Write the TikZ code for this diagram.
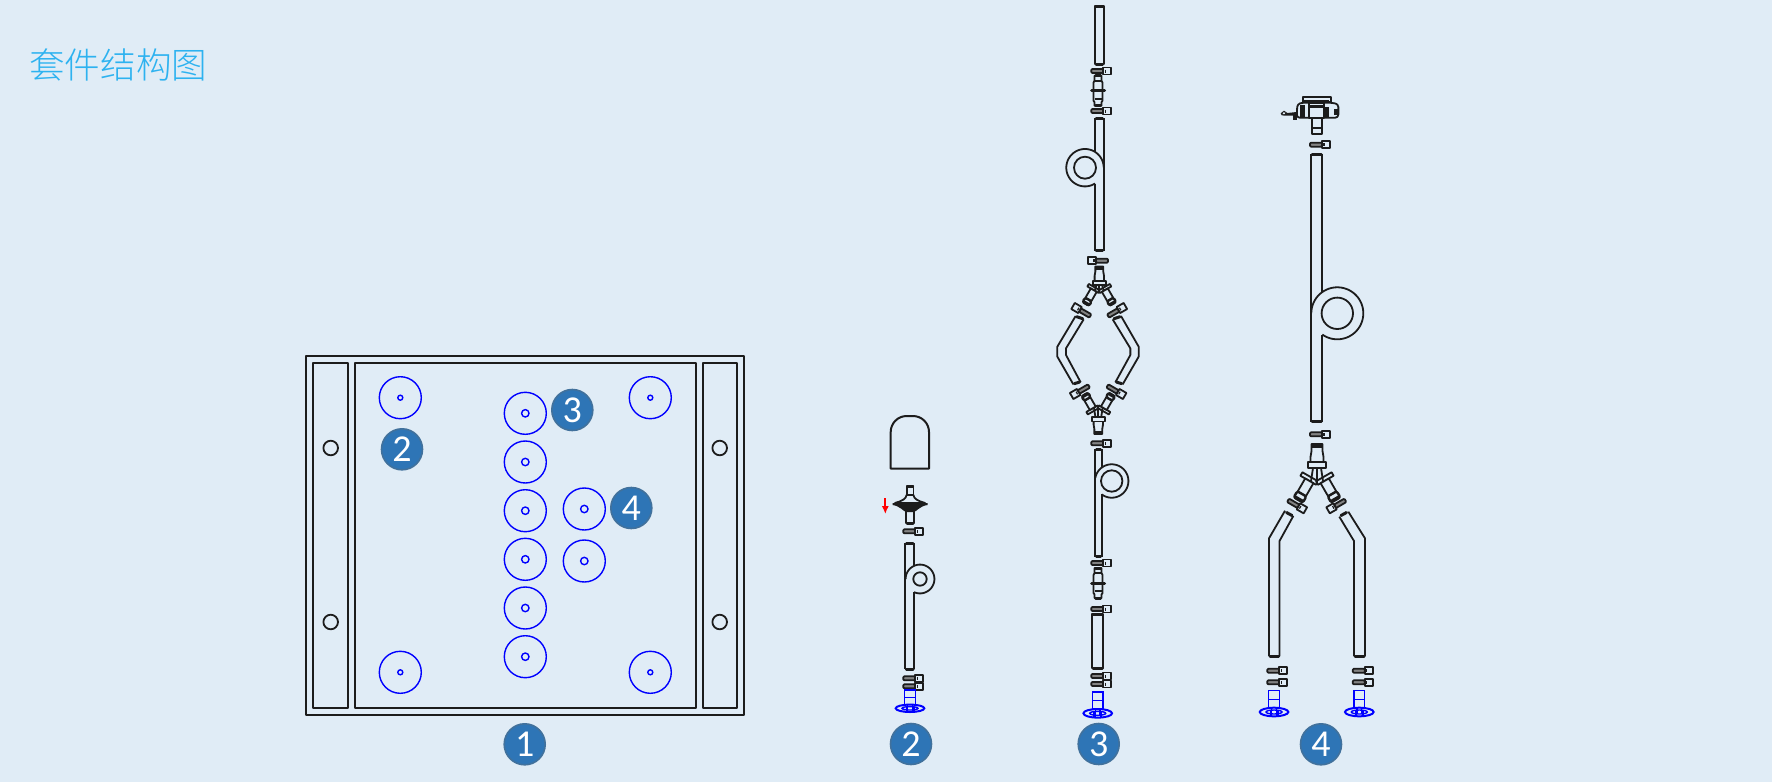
\documentclass[tikz,border=0pt]{standalone}
\usepackage{fontspec}
\usetikzlibrary{arrows.meta}
\setmainfont{Carlito}
\newfontfamily\cjk[UprightFont={* Light}]{Noto Sans CJK SC}
\definecolor{bgc}{HTML}{E0ECF6}
\definecolor{ink}{HTML}{1C1C1C}
\definecolor{titlec}{HTML}{2DB2F0}
\definecolor{badgec}{HTML}{2E75B6}
\definecolor{badgeb}{HTML}{41719C}
\tikzset{
  tubeline/.style={draw=ink,line width=0.9pt,line join=round},
  capline/.style={draw=ink,line width=1.5pt,line cap=round},
  thinblue/.style={draw=blue,line width=0.7pt},
  badge/.style={circle,fill=badgec,draw=badgeb,line width=0.8pt,minimum size=20.5pt,inner sep=0pt,text=white,font=\fontsize{19}{20}\selectfont},
  lockpiece/.pic={
    \draw[tubeline,fill=ink!55,rounded corners=0.5pt] (-10,-2) rectangle (2,2);
    \draw[tubeline,fill=bgc] (2,-3.5) rectangle (10,3.5);
    \draw[ink,line width=0.6pt] (4,-1.5) -- (4,1.5);
  },
  unionpiece/.pic={
    \draw[tubeline,fill=bgc] (-3.5,-15) -- (-3.5,-10) -- (-4.5,-8) -- (-4.5,0) -- (4.5,0) -- (4.5,-8) -- (3.5,-10) -- (3.5,-15) -- cycle;
    \draw[tubeline,fill=bgc] (-4.5,0) -- (-4.5,10) -- (-3.5,11.5) -- (-3.5,15) -- (3.5,15) -- (3.5,11.5) -- (4.5,10) -- (4.5,0) -- cycle;
    \draw[capline] (-2.5,-15) -- (2.5,-15);
    \draw[capline] (-2.5,15) -- (2.5,15);
    \draw[tubeline] (-3.5,-10) -- (3.5,-10);
    \draw[tubeline] (-3.5,8) -- (3.5,8);
    \draw[capline] (-6.5,0) -- (6.5,0);
  },
  basepiece/.pic={
    \draw[thinblue] (-5.3,-21.3) rectangle (5.3,-12.7);
    \draw[thinblue] (-5.3,-12.7) -- (-5.3,-3.5);
    \draw[thinblue] (5.3,-12.7) -- (5.3,-3.5);
    \draw[thinblue,line width=1pt] (0,0) ellipse [x radius=14.3,y radius=4.3];
    \draw[thinblue] (0,0) ellipse [x radius=8,y radius=2];
    \fill[blue] (-4.5,-1) rectangle (-2.2,4.3);
    \fill[blue] (2.2,-1) rectangle (4.5,4.3);
    \draw[thinblue] (-2.3,-5) -- (-2.3,2);
    \draw[thinblue] (2.3,-5) -- (2.3,2);
  }
}
\newcommand{\plaintube}[4]{%
  \draw[tubeline] (#1,#3) rectangle (#2,#4);
  \draw[capline] ({#1+1},#3) -- ({#2-1},#3);
  \draw[capline] ({#1+1},#4) -- ({#2-1},#4);
}
% far x, near x, top, bottom, cx, cy, outer r, inner r, side
\newcommand{\looptube}[9]{%
  \pgfmathsetmacro\lta{360-acos(max(-1,min(1,#9*(#1-#5)/#7)))}%
  \pgfmathsetmacro\ltb{360+acos(max(-1,min(1,#9*(#2-#5)/#7)))}%
  \pgfmathsetmacro\lth{sqrt(max(0,#7*#7-(#2-#5)*(#2-#5)))}%
  \draw[tubeline] (#1,#3) -- (#1,#4);
  \draw[tubeline] (#2,#3) -- (#2,{#6-\lth});
  \draw[tubeline] (#2,{#6+\lth}) -- (#2,#4);
  \draw[tubeline] plot[domain=\lta:\ltb,samples=90] ({#5+#9*#7*cos(\x)},{#6+#7*sin(\x)});
  \draw[tubeline] (#5,#6) circle[radius=#8];
  \draw[capline] ({min(#1,#2)+1},#3) -- ({max(#1,#2)-1},#3);
  \draw[capline] ({min(#1,#2)+1},#4) -- ({max(#1,#2)-1},#4);
}
\newcommand{\ybranch}{%
  \draw[tubeline,fill=bgc] (-18,-2) rectangle (0,2);
  \draw[tubeline,fill=bgc] (-12.5,2) rectangle (-3,17);
  \draw[tubeline,line width=1.2pt,fill=bgc,rounded corners=1pt] (-13,17) rectangle (-2.5,24);
  \draw[ink,line width=1.6pt] (-12.5,23) -- (-3,23);
}
% x, y, xscale, yscale, stem end, flange position (both as negative offsets from the hub)
\newcommand{\yfitting}[6]{%
  \begin{scope}[shift={(#1,#2)},xscale=#3,yscale=#4]
    \begin{scope}[rotate=-30]\ybranch\end{scope}
    \begin{scope}[xscale=-1,rotate=-30]\ybranch\end{scope}
    \draw[tubeline,fill=bgc] (-5.5,#5) -- (-5.5,{#5+7}) -- (-6.5,{#5+13}) -- (-6.5,{#6-2}) -- (6.5,{#6-2}) -- (6.5,{#5+13}) -- (5.5,{#5+7}) -- (5.5,#5) -- cycle;
    \draw[ink,line width=2pt] (-5,{#5+2}) -- (5,{#5+2});
    \draw[tubeline,fill=bgc] (-9,{#6-3}) rectangle (9,{#6+3});
    \draw[tubeline] (-4,{#6+3}) -- (-6,-2);
    \draw[tubeline] (4,{#6+3}) -- (6,-2);
    \draw[tubeline] (0,{#6+3}) -- (0,0);
  \end{scope}
}
\begin{document}
\begin{tikzpicture}[x=0.5pt,y=-0.5pt]
\useasboundingbox (0,0) rectangle (1772,782);
\fill[bgc] (0,0) rectangle (1772,782);
\node[anchor=west,inner sep=0pt,text=titlec,font=\cjk\fontsize{17.8}{18}\selectfont] (title) at (29,65) {套件结构图};

% ---------- panel 1
\draw[tubeline] (305.7,356) rectangle (743.7,714.7);
\draw[tubeline] (313,363.3) rectangle (348,707.7);
\draw[tubeline] (354.7,363.3) rectangle (695.7,707.7);
\draw[tubeline] (702.7,363.3) rectangle (737.3,707.7);
\foreach \px in {330.7,719.7} \foreach \py in {448,622}
  \draw[tubeline] (\px,\py) circle[radius=7.3];
\foreach \px/\py in {400.3/397.7,650.3/397.7,400.3/672.3,650.3/672.3} {
  \draw[thinblue] (\px,\py) circle[radius=21];
  \draw[thinblue] (\px,\py) circle[radius=2.5];
}
\foreach \px/\py in {525.3/413.3,525.3/462,525.3/510.7,525.3/559.3,525.3/608,525.3/656.7,584.3/509,584.3/561} {
  \draw[thinblue] (\px,\py) circle[radius=21];
  \draw[thinblue] (\px,\py) circle[radius=3.7];
}
\node[badge] (b3a) at (572.3,410) {3};
\node[badge] (b2a) at (402,449.3) {2};
\node[badge] (b4a) at (631.3,508) {4};
\node[badge] (b1) at (524.7,744.3) {1};

% ---------- panel 2
\draw[tubeline,line width=1pt] (890.7,468.7) [rounded corners=8pt] -- (890.7,416) -- (929,416) [sharp corners] -- (929,468.7) -- cycle;
\draw[red,line width=0.9pt,-{Latex[length=4pt,width=3.6pt]}] (885.3,498.3) -- (885.3,514);
% filter
\begin{scope}[shift={(910,504)}]
  \draw[tubeline,fill=bgc] (-3.4,-9) -- (-3.4,-18) -- (3.4,-18) -- (3.4,-9) -- cycle;
  \draw[capline] (-2.5,-18) -- (2.5,-18);
  \draw[tubeline,fill=bgc] (-3.4,-9) .. controls (-4,-5) and (-8,-3) .. (-15,-1) -- (15,-1) .. controls (8,-3) and (4,-5) .. (3.4,-9) -- cycle;
  \draw[tubeline,fill=bgc] (-4,7) rectangle (4,19);
  \draw[capline] (-3,19) -- (3,19);
  \fill[ink] (-17.5,-1) -- (17.5,-1) -- (17.5,1) .. controls (10,2) and (7,7) .. (4,8) -- (-4,8) .. controls (-7,7) and (-10,2) .. (-17.5,1) -- cycle;
\end{scope}
\pic at (913.3,531.3) {lockpiece};
\looptube{905.3}{914}{543.3}{669.3}{920}{579}{14.4}{6.7}{1}
\pic at (913.3,678.3) {lockpiece};
\pic at (913.3,686.3) {lockpiece};
\pic[yscale=0.86] at (910,708.3) {basepiece};
\node[badge] (b2) at (911,744) {2};

% ---------- panel 3
\plaintube{1095}{1103.7}{6}{64}
\pic at (1101.3,71) {lockpiece};
\pic at (1098,90.7) {unionpiece};
\pic at (1101.3,111) {lockpiece};
\looptube{1103.7}{1095}{118.3}{250.7}{1085}{167.7}{18.7}{11}{-1}
\pic[rotate=180] at (1098,260.7) {lockpiece};
\yfitting{1099.3}{291.7}{0.72}{0.72}{-35}{-12}
\pic[rotate=150] at (1081.7,311) {lockpiece};
\pic[rotate=30] at (1116.7,311) {lockpiece};
\begin{scope}[shift={(1040,250)},x=0.16667pt,y=-0.16667pt]
  \draw[tubeline] (107,198) -- (52,290) -- (52,320) -- (100,403);
  \draw[tubeline] (131,208) -- (78,295) -- (78,315) -- (122,397);
  \draw[capline] (110,200) -- (128,206);
  \draw[capline] (103,401) -- (119,396);
  \draw[tubeline] (218,208) -- (271,295) -- (271,315) -- (226,397);
  \draw[tubeline] (243,198) -- (296,290) -- (296,320) -- (248,403);
  \draw[capline] (222,206) -- (240,200);
  \draw[capline] (229,396) -- (245,401);
\end{scope}
\pic[rotate=210] at (1080.3,391) {lockpiece};
\pic[rotate=-30] at (1116,391) {lockpiece};
\yfitting{1098.3}{406.7}{0.72}{-0.72}{-38}{-17.5}
\pic at (1101.3,443.3) {lockpiece};
\looptube{1095.3}{1101.7}{449}{556.7}{1111.7}{481}{16.7}{10.7}{1}
\pic at (1101.3,563) {lockpiece};
\pic at (1098,583) {unionpiece};
\pic at (1101.3,609) {lockpiece};
\plaintube{1092}{1103.3}{614}{668.3}
\pic at (1101.3,676) {lockpiece};
\pic at (1101.3,684) {lockpiece};
\pic at (1097.7,713.3) {basepiece};
\node[badge] (b3) at (1098.7,744) {3};

% ---------- panel 4
\begin{scope}[shift={(1260,80)},x=0.16667pt,y=-0.16667pt]
  \draw[tubeline,fill=bgc] (128,50) rectangle (212,66);
  \draw[ink,line width=1.2pt] (132,64) -- (208,64);
  \draw[tubeline,fill=bgc,rounded corners=1.5pt] (110,113) -- (112,72) -- (128,68) -- (212,68) -- (235,72) -- (235,113) -- cycle;
  \fill[ink] (120,76) rectangle (135,113);
  \fill[ink] (193,82) rectangle (208,113);
  \fill[ink] (222,88) rectangle (234,106);
  \draw[tubeline,fill=bgc] (147,70) rectangle (192,113);
  \draw[ink,line width=1.2pt] (150,80) -- (188,80);
  \fill[ink] (62,100) -- (72,92) -- (82,99) -- (110,96) -- (110,107) -- (75,107) -- (65,106) -- cycle;
  \fill[bgc] (70,97) -- (76,98) -- (74,102) -- (68,102) -- cycle;
  \fill[ink] (100,106) rectangle (112,120);
  \draw[tubeline,fill=bgc] (155,113) rectangle (187,162);
  \draw[tubeline] (155,143) -- (187,143);
\end{scope}
\pic at (1320,144.7) {lockpiece};
\looptube{1311}{1322.3}{154}{421.7}{1337.3}{313.3}{26}{15.7}{1}
\pic at (1320,434.3) {lockpiece};
\yfitting{1317}{483}{1}{1}{-39}{-18}
\pic[rotate=-30] at (1296.7,505.3) {lockpiece};
\pic[rotate=210] at (1336.7,505.3) {lockpiece};
\draw[tubeline] (1285,510.7) -- (1269,538.3) -- (1269,656);
\draw[tubeline] (1293.3,516) -- (1279.5,541) -- (1279.5,656);
\draw[capline] (1286.5,512.5) -- (1292,515.5);
\draw[capline] (1270,656) -- (1278.5,656);
\draw[tubeline] (1348.3,511.7) -- (1365,538.3) -- (1365,656);
\draw[tubeline] (1339.3,516.7) -- (1354,541) -- (1354,656);
\draw[capline] (1341,515.5) -- (1346.5,512.5);
\draw[capline] (1355,656) -- (1364,656);
\pic at (1277.3,670.7) {lockpiece};
\pic at (1277.3,682.3) {lockpiece};
\pic at (1362.8,670.7) {lockpiece};
\pic at (1362.8,682.3) {lockpiece};
\pic at (1274,712) {basepiece};
\pic at (1359.3,712) {basepiece};
\node[badge] (b4) at (1321,744.3) {4};
\end{tikzpicture}
\end{document}
